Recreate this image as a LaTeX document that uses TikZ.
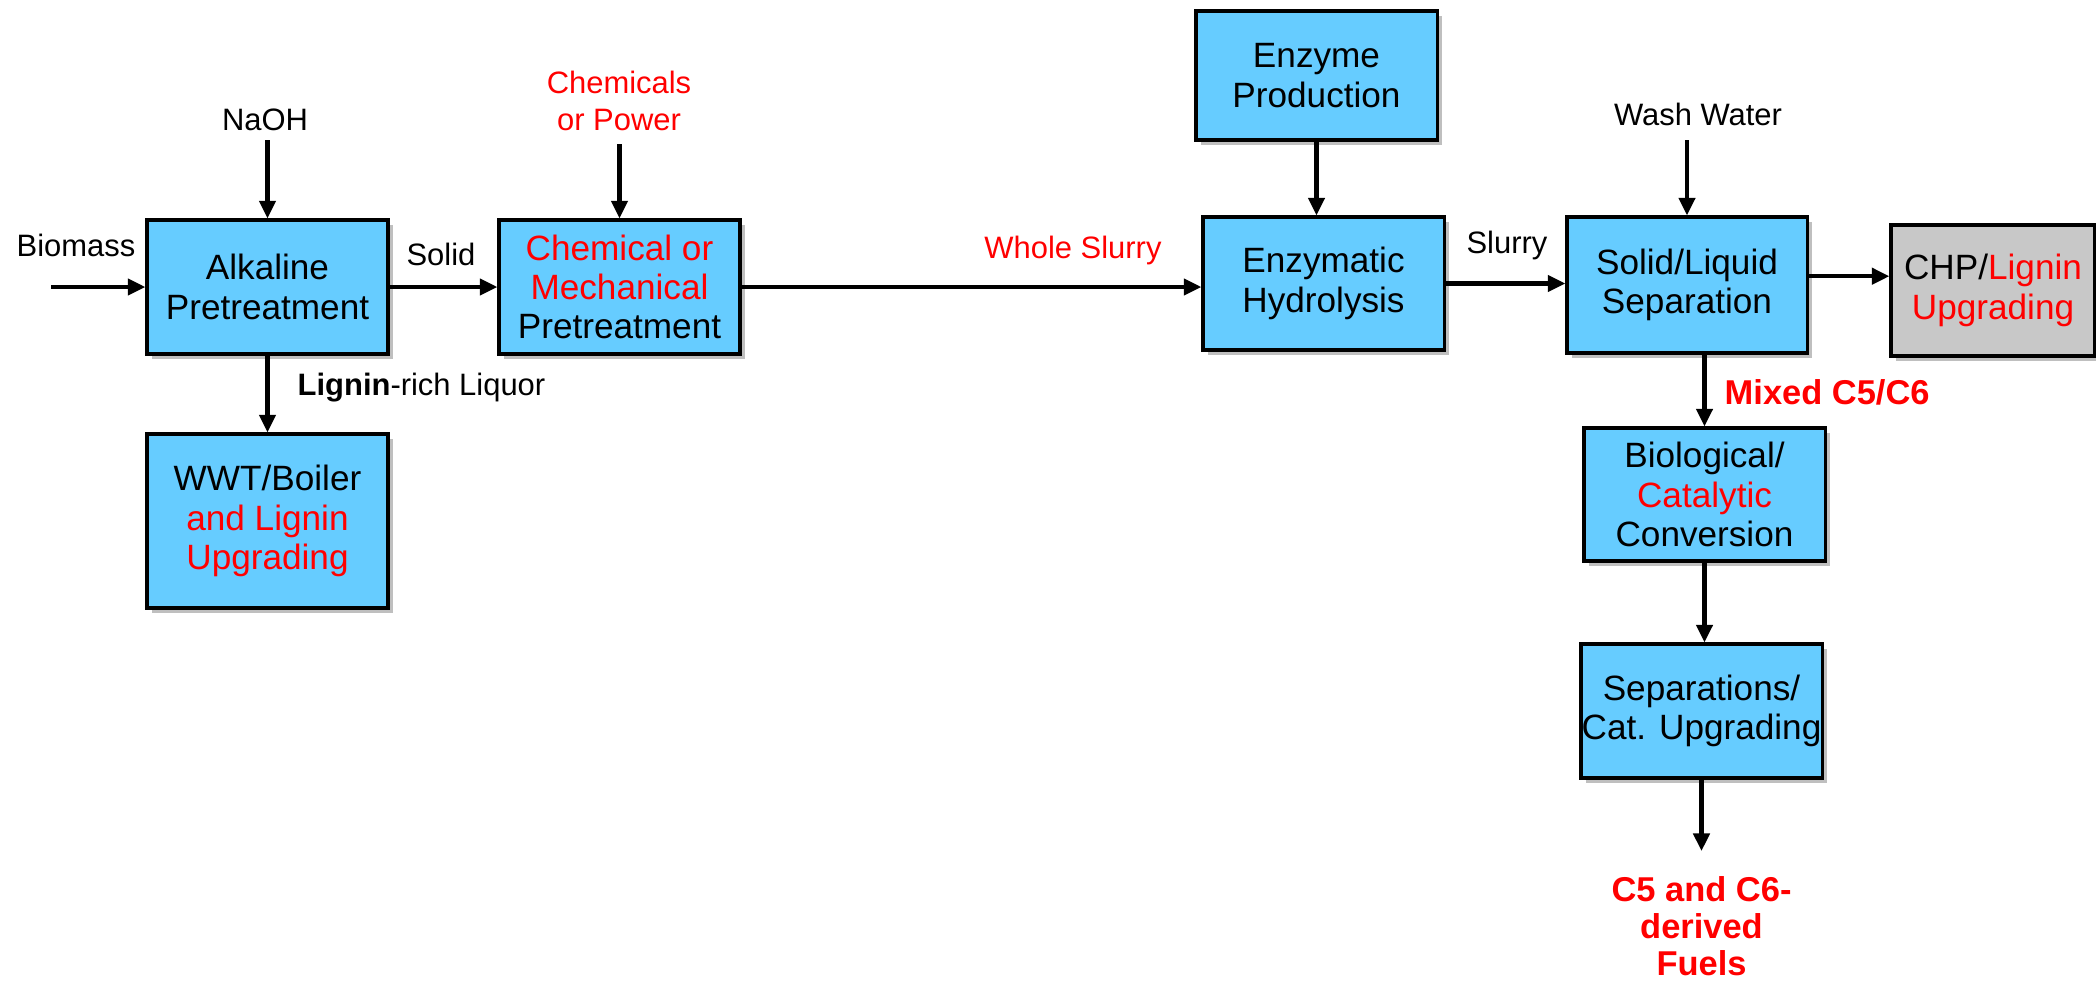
\documentclass[tikz,border=0pt]{standalone}
\usepackage{fontspec}
\setmainfont{Liberation Sans}
\usetikzlibrary{arrows.meta,shadows}
\definecolor{boxblue}{RGB}{102,204,255}
\definecolor{boxgray}{RGB}{200,200,200}
\definecolor{myred}{RGB}{255,0,0}
\begin{document}
\begin{tikzpicture}[x=0.01cm,y=-0.01cm,
  box/.style={draw=black,line width=0.9pt,fill=boxblue,align=center,inner sep=0pt,
     minimum width=2.41cm,minimum height=1.34cm,
     font=\fontsize{10}{11.2}\selectfont,
     drop shadow={shadow xshift=1.5pt,shadow yshift=-1.5pt,opacity=0.25,fill=black}},
  lbl/.style={align=center,inner sep=0pt,font=\fontsize{8.8}{10.5}\selectfont},
  rlbl/.style={lbl,text=myred},
  blbl/.style={align=center,inner sep=0pt,text=myred,font=\fontsize{9.8}{10.6}\selectfont\bfseries},
  flow/.style={line width=1.15pt,-{Triangle[length=5pt,width=4.6pt]}}]
\useasboundingbox (0,0) rectangle (2096,981);
% boxes
\node[box] (alk) at (267.5,287) {Alkaline\\Pretreatment};
\node[box] (chem) at (619.5,287) {\textcolor{myred}{Chemical or}\\\textcolor{myred}{Mechanical}\\Pretreatment};
\node[box,minimum height=1.74cm] (wwt) at (267.5,521) {WWT/Boiler\\\textcolor{myred}{and Lignin}\\\textcolor{myred}{Upgrading}};
\node[box,minimum height=1.29cm] (enz) at (1316.5,75.5) {Enzyme\\Production};
\node[box,minimum height=1.33cm] (hyd) at (1323.5,283.5) {Enzymatic\\Hydrolysis};
\node[box,minimum width=2.40cm,minimum height=1.36cm] (sl) at (1687,285) {Solid/Liquid\\Separation};
\node[box,fill=boxgray,minimum width=2.04cm,minimum height=1.31cm] (chp) at (1993,290.5) {CHP/\textcolor{myred}{Lignin}\\\textcolor{myred}{Upgrading}};
\node[box,minimum height=1.33cm] (bio) at (1704.5,494.5) {Biological/\\\textcolor{myred}{Catalytic}\\Conversion};
\node[box,minimum height=1.34cm] (sep) at (1701.5,711) {Separations/\\Cat. Upgrading};
% free ends
\coordinate (bioin) at (51,287);
\coordinate (naohin) at (267.5,140);
\coordinate (chemin) at (619.5,144);
\coordinate (washin) at (1687,140);
\coordinate (fuelout) at (1701.5,851);
% labels
\node[lbl] (lbio) at (76,245) {Biomass};
\node[lbl] (lnaoh) at (265,120) {NaOH};
\node[lbl] (lsolid) at (441,254) {Solid};
\node[rlbl] (lchem) at (619,101) {Chemicals\\or Power};
\node[rlbl] (lwhole) at (1073,250) {Whole Slurry};
\node[lbl] (lslurry) at (1507,245) {Slurry};
\node[lbl] (lwash) at (1698,114) {Wash Water};
\node[lbl,anchor=west] (llig) at (297,388) {\textbf{Lignin}-rich Liquor};
\node[blbl,anchor=west] (lmix) at (1724,392) {Mixed C5/C6};
\node[blbl] (lfuel) at (1701.5,926) {C5 and C6-\\derived\\Fuels};
% connectors
\draw[flow] (bioin) -- (alk.west);
\draw[flow] (naohin) -- (alk.north);
\draw[flow] (alk.east) -- (chem.west);
\draw[flow] (chemin) -- (chem.north);
\draw[flow] (chem.east) -- (chem.east -| hyd.west);
\draw[flow] (enz.south) -- (enz.south |- hyd.north);
\draw[flow] (hyd.east) -- (hyd.east -| sl.west);
\draw[flow] (washin) -- (sl.north);
\draw[flow] ([yshift=2.5pt]sl.east) -- ([yshift=2.5pt]sl.east -| chp.west);
\draw[flow] (alk.south) -- (wwt.north);
\draw[flow] (bio.north |- sl.south) -- (bio.north);
\draw[flow] (bio.south) -- (bio.south |- sep.north);
\draw[flow] (sep.south) -- (fuelout);
\end{tikzpicture}
\end{document}
